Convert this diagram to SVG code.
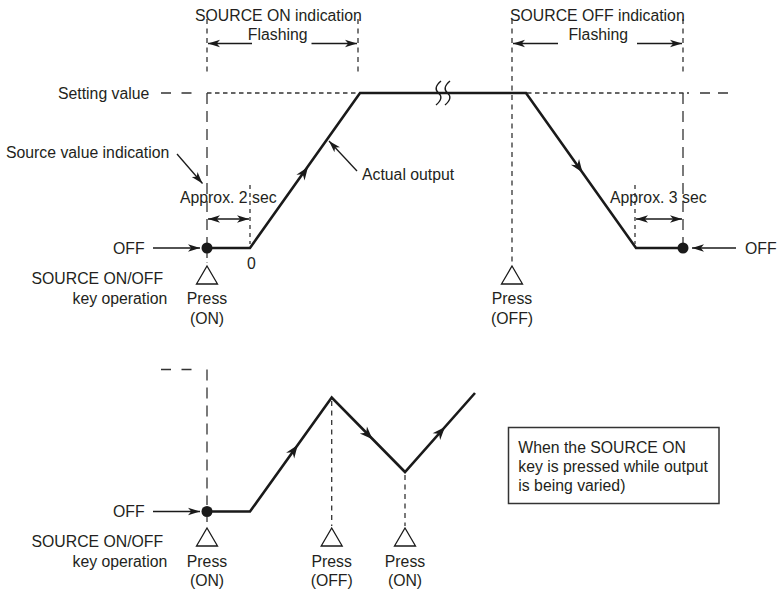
<svg xmlns="http://www.w3.org/2000/svg" width="780" height="589" viewBox="0 0 780 589">
<style>
text{font-family:"Liberation Sans",Arial,sans-serif;font-size:15.8px;fill:#231f20}
.m{text-anchor:middle}
.out{fill:none;stroke:#1a1a1a;stroke-width:2.6;stroke-linejoin:miter}
.ptr{fill:none;stroke:#1a1a1a;stroke-width:1.3}
.ds{fill:none;stroke:#333;stroke-width:1.3;stroke-dasharray:5 4.5}
.dl{fill:none;stroke:#333;stroke-width:1.3;stroke-dasharray:11 7}
.dh{fill:none;stroke:#333;stroke-width:1.3;stroke-dasharray:10 10.5}
.tri{fill:#fff;stroke:#1a1a1a;stroke-width:1.3}
.box{fill:#fff;stroke:#333;stroke-width:1.5}
.brk{fill:none;stroke:#1a1a1a;stroke-width:1.4}
</style>
<defs>
<marker id="ar" markerUnits="userSpaceOnUse" markerWidth="14" markerHeight="10" refX="12" refY="5" orient="auto-start-reverse">
<path d="M0,1.2 L12,5 L0,8.8 L3.2,5 Z" fill="#1a1a1a"/>
</marker>
<path id="ah" d="M0,0 L-13,-5 L-9,0 L-13,5 Z" fill="#1a1a1a"/>
</defs>

<g id="connectors">
<line class="ds" x1="207" y1="19" x2="207" y2="74"/>
<line class="dl" x1="207" y1="93" x2="207" y2="243"/>
<line class="ds" x1="207" y1="253" x2="207" y2="263"/>
<line class="ds" x1="358" y1="19" x2="358" y2="74"/>
<line class="ds" x1="512" y1="19" x2="512" y2="263"/>
<line class="ds" x1="683" y1="19" x2="683" y2="74"/>
<line class="dl" x1="683" y1="93" x2="683" y2="243"/>
<line class="ds" x1="250" y1="185" x2="250" y2="244" style="stroke-dasharray:4 4"/>
<line class="ds" x1="635" y1="185" x2="635" y2="244" style="stroke-dasharray:4 4"/>
<line class="dh" x1="161" y1="93" x2="193" y2="93"/>
<line class="ds" x1="207" y1="93" x2="359" y2="93" style="stroke-dasharray:4.5 3.5"/>
<line class="ds" x1="527" y1="93" x2="689" y2="93" style="stroke-dasharray:4.5 3.5"/>
<line class="dh" x1="700" y1="93" x2="729" y2="93" style="stroke-dasharray:10 8"/>
<line class="ptr" x1="252" y1="43.5" x2="208" y2="43.5" marker-end="url(#ar)"/>
<line class="ptr" x1="311.5" y1="43.5" x2="357" y2="43.5" marker-end="url(#ar)"/>
<line class="ptr" x1="558" y1="43.5" x2="513" y2="43.5" marker-end="url(#ar)"/>
<line class="ptr" x1="637" y1="43.5" x2="682" y2="43.5" marker-end="url(#ar)"/>
<line class="ptr" x1="177" y1="154" x2="202.5" y2="183.5" marker-end="url(#ar)"/>
<line class="ptr" x1="357" y1="171" x2="329" y2="141" marker-end="url(#ar)"/>
<line class="ptr" x1="208" y1="219" x2="249" y2="219" marker-start="url(#ar)" marker-end="url(#ar)"/>
<line class="ptr" x1="636" y1="219" x2="682" y2="219" marker-start="url(#ar)" marker-end="url(#ar)"/>
<line class="ptr" x1="153" y1="248" x2="200" y2="248" marker-end="url(#ar)"/>
<line class="ptr" x1="736" y1="248" x2="692" y2="248" marker-end="url(#ar)"/>
<path class="out" d="M207,248 L250,248 L360,93 L526,93 L636,248 L683,248"/>
<path class="brk" d="M441,81 C435,86 435,90 438.5,93 C442,96 442,100 436,105"/>
<path class="brk" d="M450,81 C444,86 444,90 447.5,93 C451,96 451,100 445,105"/>
<use href="#ah" transform="translate(308,167) rotate(-54.6)"/>
<use href="#ah" transform="translate(582.5,172.5) rotate(54.6)"/>
<circle cx="207" cy="248" r="5.5" fill="#1a1a1a"/>
<circle cx="683" cy="248" r="5.5" fill="#1a1a1a"/>

<line class="dh" x1="161" y1="369.5" x2="194" y2="369.5"/>
<line class="dl" x1="207" y1="369.5" x2="207" y2="505"/>
<line class="ds" x1="207" y1="517" x2="207" y2="525"/>
<line class="ds" x1="331.7" y1="401" x2="331.7" y2="526"/>
<line class="ds" x1="405" y1="475" x2="405" y2="526"/>
<line class="ptr" x1="153" y1="511.5" x2="200" y2="511.5" marker-end="url(#ar)"/>
<path class="out" d="M207,511.5 L250,511.5 L331.7,397.5 L405,472 L475,393"/>
<use href="#ah" transform="translate(297.7,445) rotate(-54.5)"/>
<use href="#ah" transform="translate(372.5,439.2) rotate(45.5)"/>
<use href="#ah" transform="translate(445,426.9) rotate(-48.5)"/>
<circle cx="207" cy="511.5" r="5.5" fill="#1a1a1a"/>
</g>

<g id="on-indication">
<text x="195" y="20.5">SOURCE ON indication</text>
<text class="m" x="277.7" y="39.5">Flashing</text>
</g>
<g id="off-indication">
<text x="510" y="20.5">SOURCE OFF indication</text>
<text class="m" x="598.3" y="39.5">Flashing</text>
</g>
<g id="setting-value"><text x="58" y="99">Setting value</text></g>
<g id="source-value"><text x="6" y="157.5">Source value indication</text></g>
<g id="actual-output"><text x="362" y="179.5">Actual output</text></g>
<g id="approx2"><text x="180" y="203">Approx. 2 sec</text></g>
<g id="approx3"><text x="610" y="203">Approx. 3 sec</text></g>
<g id="off-left"><text x="113" y="254">OFF</text></g>
<g id="zero"><text x="247" y="268.5">0</text></g>
<g id="off-right"><text x="745" y="254">OFF</text></g>
<g id="key-op-top">
<text x="31.5" y="284">SOURCE ON/OFF</text>
<text x="72.5" y="304">key operation</text>
</g>
<g id="press-on-top">
<path class="tri" d="M207,266 L217.5,284 L196.5,284 Z"/>
<text class="m" x="207" y="304">Press</text>
<text class="m" x="207" y="323.5">(ON)</text>
</g>
<g id="press-off-top">
<path class="tri" d="M512,266 L522.5,284 L501.5,284 Z"/>
<text class="m" x="512" y="304">Press</text>
<text class="m" x="512" y="323.5">(OFF)</text>
</g>

<g id="off-bottom"><text x="113" y="517">OFF</text></g>
<g id="key-op-bottom">
<text x="31.5" y="546.5">SOURCE ON/OFF</text>
<text x="72.5" y="566.5">key operation</text>
</g>
<g id="press-on-b1">
<path class="tri" d="M207,528 L217.5,546 L196.5,546 Z"/>
<text class="m" x="207" y="566.5">Press</text>
<text class="m" x="207" y="585.5">(ON)</text>
</g>
<g id="press-off-b">
<path class="tri" d="M331.7,528 L342.2,546 L321.2,546 Z"/>
<text class="m" x="331.7" y="566.5">Press</text>
<text class="m" x="331.7" y="585.5">(OFF)</text>
</g>
<g id="press-on-b2">
<path class="tri" d="M405,528 L415.5,546 L394.5,546 Z"/>
<text class="m" x="405" y="566.5">Press</text>
<text class="m" x="405" y="585.5">(ON)</text>
</g>
<g id="note">
<rect class="box" x="508.5" y="427.5" width="210.5" height="76"/>
<text x="518.3" y="453">When the SOURCE ON</text>
<text x="518.3" y="472">key is pressed while output</text>
<text x="518.3" y="491">is being varied)</text>
</g>
</svg>
